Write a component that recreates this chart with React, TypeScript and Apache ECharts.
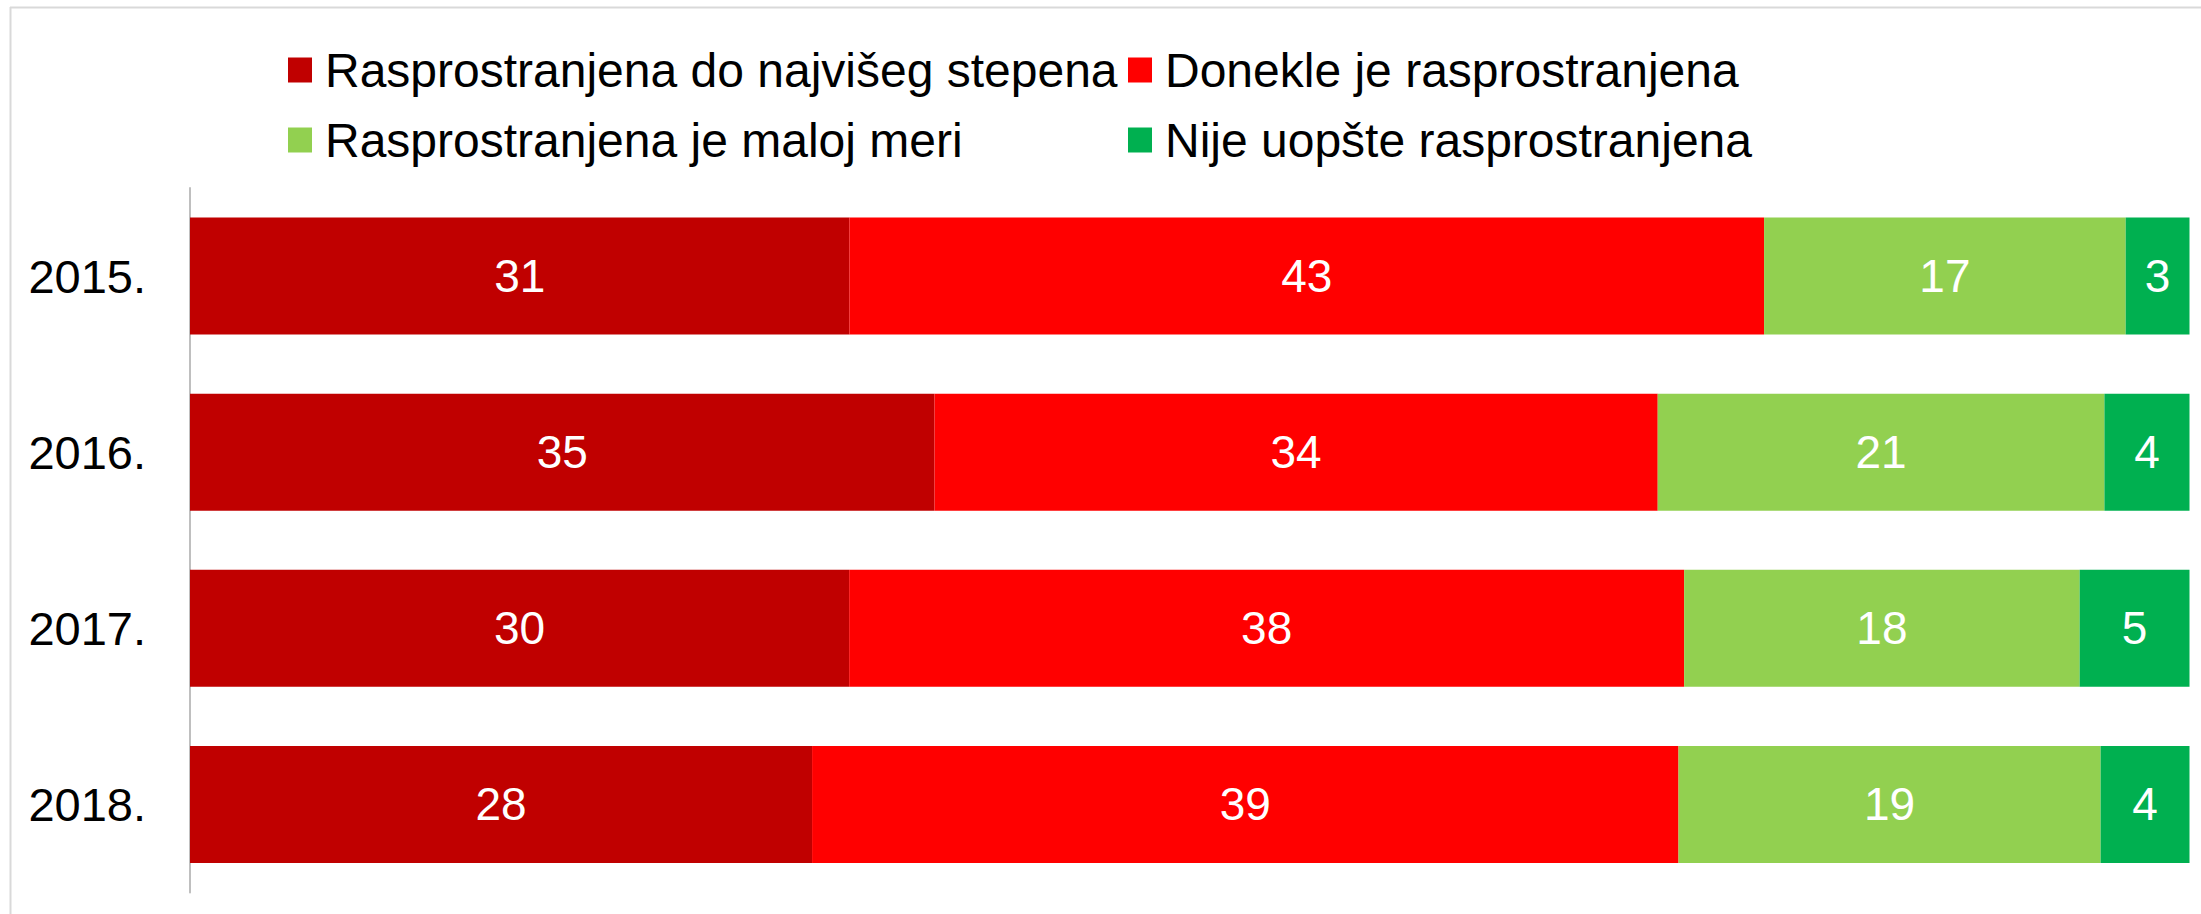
import React, { useEffect, useRef } from "react";
import * as echarts from "echarts";

const years = ["2015.", "2016.", "2017.", "2018."];
const seriesNames = [
  "Rasprostranjena do najvišeg stepena",
  "Donekle je rasprostranjena",
  "Rasprostranjena je maloj meri",
  "Nije uopšte rasprostranjena",
];
const seriesColors = ["#C00000", "#FF0000", "#92D050", "#00B050"];
const najvise = [31, 35, 30, 28];
const donekle = [43, 34, 38, 39];
const maloj = [17, 21, 18, 19];
const nije = [3, 4, 5, 4];

const FONT = "'Liberation Sans', Arial, sans-serif";

export default function App() {
  const ref = useRef<HTMLDivElement>(null);
  useEffect(() => {
    const chart = echarts.init(ref.current!, null, { renderer: "svg" });
    const raw = [najvise, donekle, maloj, nije];
    const totals = years.map((_, i) => raw.reduce((s, arr) => s + arr[i], 0));
    const legendPos = [
      { left: 288, top: 46 },
      { left: 1128, top: 46 },
      { left: 288, top: 116 },
      { left: 1128, top: 116 },
    ];
    const option: any = {
      animation: false,
      backgroundColor: "#ffffff",
      textStyle: { fontFamily: FONT },
      legend: seriesNames.map((name, k) => ({
        data: [name],
        left: legendPos[k].left,
        top: legendPos[k].top,
        padding: 0,
        icon: "rect",
        itemWidth: 24,
        itemHeight: 25,
        selectedMode: false,
        textStyle: {
          fontFamily: FONT,
          fontSize: 48,
          color: "#000000",
          lineHeight: 25,
          padding: [0, 0, 0, 8],
        },
      })),
      grid: { left: 190, right: 11.5, top: 188, bottom: 21.5, containLabel: false },
      xAxis: {
        type: "value",
        min: 0,
        max: 100,
        show: false,
      },
      yAxis: {
        type: "category",
        data: years,
        inverse: true,
        axisLine: { show: true, lineStyle: { color: "#BFBFBF", width: 2 } },
        axisTick: { show: false },
        axisLabel: {
          fontFamily: FONT,
          fontSize: 47,
          color: "#000000",
          margin: 44,
        },
        splitLine: { show: false },
      },
      series: seriesNames.map((name, k) => ({
        type: "bar",
        name,
        stack: "total",
        barWidth: "66.5%",
        itemStyle: { color: seriesColors[k] },
        label: {
          show: true,
          position: "inside",
          color: "#ffffff",
          fontFamily: FONT,
          fontSize: 46,
          formatter: (p: any) => String(raw[k][p.dataIndex]),
        },
        data: raw[k].map((v, i) => (v / totals[i]) * 100),
      })),
      graphic: [
        {
          type: "line",
          shape: { x1: 10, y1: 7.5, x2: 2201, y2: 7.5 },
          style: { stroke: "#D9D9D9", lineWidth: 2 },
          silent: true,
        },
        {
          type: "line",
          shape: { x1: 10.5, y1: 7, x2: 10.5, y2: 914 },
          style: { stroke: "#D9D9D9", lineWidth: 2 },
          silent: true,
        },
      ],
    };
    chart.setOption(option);
    return () => chart.dispose();
  }, []);
  return (
    <div
      ref={ref}
      style={{ position: "absolute", left: 0, top: 0, width: 2201, height: 914 }}
    />
  );
}
